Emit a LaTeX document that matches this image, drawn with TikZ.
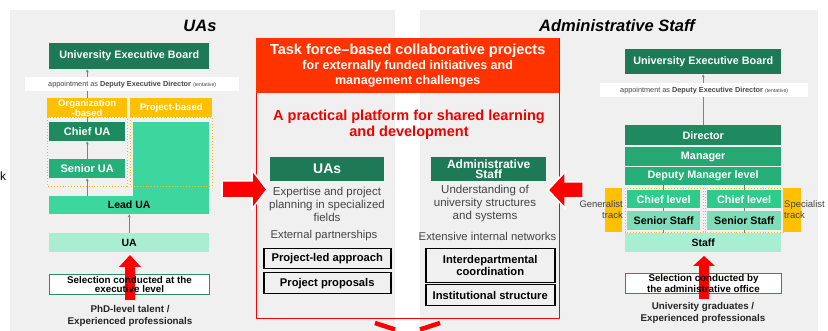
\documentclass[tikz,border=0pt]{standalone}
\usepackage{fontspec}
\setmainfont{Liberation Sans}
\usetikzlibrary{arrows.meta,backgrounds}

\definecolor{panelgray}{HTML}{F0F0F0}
\definecolor{boardgreen}{HTML}{1E7A56}
\definecolor{chiefgreen}{HTML}{1F8A60}
\definecolor{midgreen}{HTML}{25A874}
\definecolor{seniorgreen}{HTML}{27AF7A}
\definecolor{leadgreen}{HTML}{3DD69E}
\definecolor{chieflvl}{HTML}{2FCB8D}
\definecolor{seniorlvl}{HTML}{7DDDB9}
\definecolor{uagreen}{HTML}{A9EED3}
\definecolor{selgreen}{HTML}{2E8B66}
\definecolor{orangehead}{HTML}{FFC000}
\definecolor{headred}{HTML}{FF3300}
\definecolor{textred}{HTML}{F00000}
\definecolor{softtext}{HTML}{444444}

\newcommand\fsz[2]{\fontsize{#1}{#2}\selectfont}

\tikzset{
  lvl/.style={anchor=north west, inner sep=0pt, align=center, font={\bfseries\fsz{10.5}{11}}},
  appt/.style={anchor=north west, inner sep=0pt, fill=white, text=softtext, font={\fsz{7.3}{8}}},
  blackbox/.style={anchor=north west, inner sep=0pt, align=center, draw=black, line width=1.5pt, font={\bfseries\fsz{11.2}{12}}},
  gline/.style={draw=gray, line width=0.9pt, -{Stealth[length=3pt,width=3pt]}},
  plainline/.style={draw=gray, line width=0.9pt},
  blockarrow/.style={fill=red, draw=none},
  sidearrow/.style={fill=red, draw=white, line width=1.5pt},
  dottedbox/.style={draw=orangehead, dotted, line width=0.9pt}
}

\begin{document}
\begin{tikzpicture}[x=1pt, y=-1pt]
\useasboundingbox (0,0) rectangle (828,331);

% panels
\begin{scope}[on background layer]
\fill[panelgray] (10,10) rectangle (395,331);
\fill[panelgray] (420,10) rectangle (818,331);
\end{scope}

\node[font={\fsz{12}{12}}, anchor=west, inner sep=0pt] (cutk) at (0,176) {k};

% ---------------- UAs ----------------
\node[font={\bfseries\itshape\fsz{16.5}{17}}] (uatitle) at (200,26) {UAs};

\node[lvl, fill=boardgreen, text=white, minimum width=160, minimum height=26, font={\bfseries\fsz{10.8}{12}}] (uaboard) at (49,43) {University Executive Board};
\node[appt, minimum width=214, minimum height=14] (uaappt) at (25,77) {appointment as \textbf{Deputy Executive Director} {\fsz{5.2}{6}(tentative)}};

\node[lvl, fill=orangehead, text=white, minimum width=80, minimum height=19, font={\bfseries\fsz{9.5}{8}}] (orgbased) at (47,98) {Organization\\-based};
\node[lvl, fill=orangehead, text=white, minimum width=82, minimum height=19, font={\bfseries\fsz{9.5}{10}}] (projbased) at (130,98) {Project-based};

\node[lvl, fill=chiefgreen, text=white, minimum width=76, minimum height=19, font={\bfseries\fsz{11}{12}}] (chiefua) at (49,122) {Chief UA};
\node[lvl, fill=seniorgreen, text=white, minimum width=76, minimum height=19, font={\bfseries\fsz{11}{12}}] (seniorua) at (49,159) {Senior UA};
\node[lvl, fill=leadgreen, minimum width=76, minimum height=74] (projbox) at (133,122) {};
\node[lvl, fill=leadgreen, minimum width=160, minimum height=18] (leadua) at (49,196) {Lead UA};
\node[lvl, fill=uagreen, minimum width=160, minimum height=19] (ua) at (49,233) {UA};

\draw[dottedbox] (orgbased.south west) rectangle (127,186);
\draw[dottedbox] (projbased.south west) rectangle (212,186);

\node[lvl, fill=white, draw=selgreen, line width=1pt, minimum width=160, minimum height=20] (uasel) at (49,274) {};
\fill[blockarrow] (125,300) -- (125,267) -- (119,267) -- (130,255) -- (141,267) -- (135,267) -- (135,300) -- cycle;
\node[font={\bfseries\fsz{9.8}{9}}, align=center, inner sep=0pt] (uaseltext) at (uasel.center) {Selection conducted at the\\executive level};
\node[font={\bfseries\fsz{9.8}{12}}, align=center, inner sep=0pt, text=black!85] (uasource) at (130,316) {PhD-level talent /\\Experienced professionals};

\begin{scope}[on background layer]
\draw[gline] (chiefua.north) -- (chiefua.north |- uaboard.south);
\end{scope}
\draw[gline] (seniorua.north) -- (chiefua.south);
\draw[gline] (leadua.north -| seniorua.south) -- (seniorua.south);
\draw[gline] (ua.north) -- (leadua.south);

% ---------------- middle ----------------
\node[anchor=north west, inner sep=0pt, draw=red, line width=1.3pt, minimum width=303, minimum height=280] (taskbox) at (256,38) {};
\node[anchor=north west, inner sep=0pt, fill=headred, text=white, align=center, minimum width=303, minimum height=55, font={\bfseries\fsz{14.5}{15}}] (taskhead) at (256,38)
  {Task force–based collaborative projects\\\fsz{12.5}{15}for externally funded initiatives and\\\fsz{12.5}{15}management challenges};
\node[text=textred, font={\bfseries\fsz{14.5}{16.5}}, align=center, inner sep=0pt] (platform) at (409,125) {A practical platform for shared learning\\and development};

\node[lvl, fill=boardgreen, text=white, minimum width=114, minimum height=24, font={\bfseries\fsz{14}{14}}] (uahead) at (270,157) {UAs};
\node[lvl, fill=boardgreen, text=white, minimum width=115, minimum height=24, font={\bfseries\fsz{12}{10.5}}] (staffhead) at (431,157) {Administrative\\Staff};

\node[text=softtext, font={\fsz{11.5}{13}}, align=center, inner sep=0pt] (uastrength) at (327,204) {Expertise and project\\planning in specialized\\fields};
\node[text=softtext, font={\fsz{11.3}{12}}, inner sep=0pt] (uaext) at (324,236) {External partnerships};
\node[text=softtext, font={\fsz{11.5}{13}}, align=center, inner sep=0pt] (staffstrength) at (485,204) {Understanding of\\university structures\\and systems};
\node[text=softtext, font={\fsz{11.3}{12}}, inner sep=0pt] (staffext) at (487.5,236) {Extensive internal networks};

\node[blackbox, minimum width=127, minimum height=20] (projled) at (263,248) {Project-led approach};
\node[blackbox, minimum width=127, minimum height=21] (projprop) at (263,272) {Project proposals};
\node[blackbox, minimum width=129, minimum height=34] (interdep) at (425,248) {Interdepartmental\\coordination};
\node[blackbox, minimum width=129, minimum height=21] (inststruct) at (425,284) {Institutional structure};

\draw[sidearrow] (222,181) -- (252,181) -- (252,170) -- (267,189.5) -- (252,209) -- (252,198) -- (222,198) -- cycle;
\draw[sidearrow] (583,182) -- (565,182) -- (565,172) -- (548,190) -- (565,208) -- (565,198) -- (583,198) -- cycle;

\draw[red, line width=4.5pt] (375,323) -- (395,329.5);
\draw[red, line width=4.5pt] (420,329.5) -- (440,323);

% ---------------- Administrative Staff ----------------
\node[font={\bfseries\itshape\fsz{16.5}{17}}] (stafftitle) at (617,26) {Administrative Staff};

\node[lvl, fill=boardgreen, text=white, minimum width=156, minimum height=25, font={\bfseries\fsz{10.8}{12}}] (stboard) at (625,49) {University Executive Board};
\node[appt, minimum width=208, minimum height=14] (stappt) at (600,83) {appointment as \textbf{Deputy Executive Director} {\fsz{5.2}{6}(tentative)}};

\node[lvl, fill=chiefgreen, text=white, minimum width=156, minimum height=20, font={\bfseries\fsz{10.8}{12}}] (director) at (625,125) {Director};
\node[lvl, fill=midgreen, text=white, minimum width=156, minimum height=19, font={\bfseries\fsz{10.8}{12}}] (manager) at (625,147) {Manager};
\node[lvl, fill=seniorgreen, text=white, minimum width=156, minimum height=18, font={\bfseries\fsz{10.8}{12}}] (deputy) at (625,167) {Deputy Manager level};

\node[lvl, fill=orangehead, minimum width=17, minimum height=44] (gentrack) at (605,188) {};
\node[lvl, fill=orangehead, minimum width=18, minimum height=44] (spectrack) at (783,188) {};

\node[lvl, fill=chieflvl, text=white, minimum width=73, minimum height=18, font={\bfseries\fsz{10.8}{12}}] (chiefl) at (627,190) {Chief level};
\node[lvl, fill=seniorlvl, minimum width=73, minimum height=19, font={\bfseries\fsz{10.7}{12}}] (seniorl) at (627,211) {Senior Staff};
\node[lvl, fill=chieflvl, text=white, minimum width=74, minimum height=18, font={\bfseries\fsz{10.8}{12}}] (chiefr) at (707,190) {Chief level};
\node[lvl, fill=seniorlvl, minimum width=74, minimum height=19, font={\bfseries\fsz{10.7}{12}}] (seniorr) at (707,211) {Senior Staff};
\draw[dottedbox] (625,188) rectangle (703,232);
\draw[dottedbox] (705,188) rectangle (783,232);

\node[text=softtext, font={\fsz{9.5}{11}}, align=right, anchor=east, inner sep=0pt] (genlabel) at (623,210) {Generalist\\track};
\node[text=softtext, font={\fsz{9.5}{11}}, align=left, anchor=west, inner sep=0pt] (speclabel) at (784,210) {Specialist\\track};

\node[lvl, fill=uagreen, minimum width=156, minimum height=19] (stbase) at (625,233) {Staff};

\node[lvl, fill=white, draw=selgreen, line width=1pt, minimum width=156, minimum height=20] (stsel) at (625,273) {};
\fill[blockarrow] (699,299) -- (699,266) -- (693,266) -- (704,256) -- (715,266) -- (709,266) -- (709,299) -- cycle;
\node[font={\bfseries\fsz{9.8}{9}}, align=center, inner sep=0pt] (stseltext) at (stsel.center) {Selection conducted by\\the administrative office};
\node[font={\bfseries\fsz{9.8}{11.5}}, align=center, inner sep=0pt, text=black!85] (stsource) at (703,313) {University graduates /\\Experienced professionals};

\begin{scope}[on background layer]
\draw[gline] (director.north) -- (stboard.south);
\end{scope}
\draw[plainline] (seniorl.north) -- (chiefl.south);
\draw[plainline] (chiefl.north) -- (chiefl.north |- deputy.south);
\draw[plainline] (seniorr.north) -- (chiefr.south);
\draw[plainline] (chiefr.north) -- (chiefr.north |- deputy.south);
\draw[plainline] (seniorl.south) -- (seniorl.south |- stbase.north);
\draw[plainline] (seniorr.south) -- (seniorr.south |- stbase.north);

\end{tikzpicture}
\end{document}
